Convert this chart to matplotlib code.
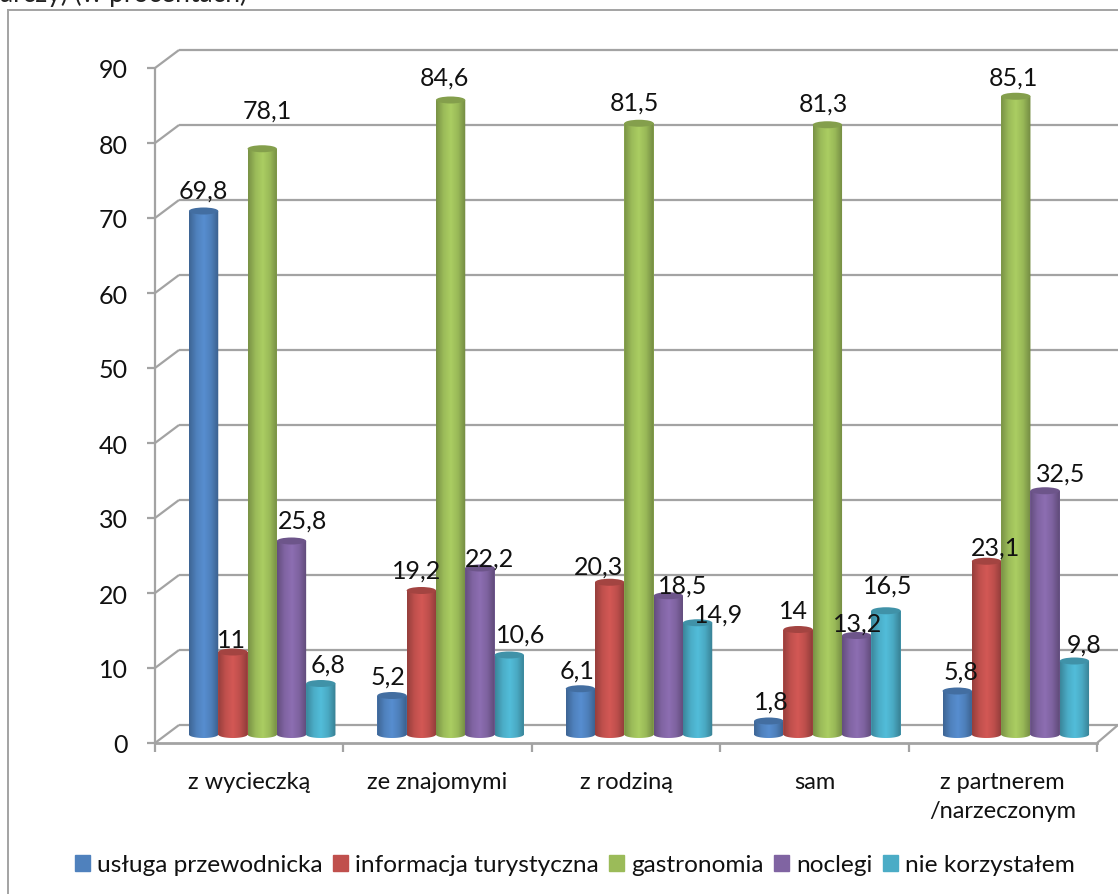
#!/usr/bin/env python3
"""Faux-3D cylinder chart: services used by travel company, in percent."""

import numpy as np
import matplotlib
matplotlib.use("Agg")
import matplotlib.pyplot as plt
from matplotlib.colors import LinearSegmentedColormap
from matplotlib.patches import Ellipse, Polygon

W, H = 1118, 895

CATEGORIES = ["z wycieczką", "ze znajomymi", "z rodziną", "sam", "z partnerem\n/narzeczonym"]
SERIES = ["usługa przewodnicka", "informacja turystyczna", "gastronomia", "noclegi", "nie korzystałem"]
PRZEWODNIK = [69.8, 5.2, 6.1, 1.8, 5.8]
INFORMACJA = [11, 19.2, 20.3, 14, 23.1]
GASTRONOMIA = [78.1, 84.6, 81.5, 81.3, 85.1]
NOCLEGI = [25.8, 22.2, 18.5, 13.2, 32.5]
NIE_KORZYSTAL = [6.8, 10.6, 14.9, 16.5, 9.8]
YTICKS = [0, 10, 20, 30, 40, 50, 60, 70, 80, 90]

COLORS = ["#4F81BD", "#C0504D", "#9BBB59", "#8064A2", "#4BACC6"]
GREY = "#A3A3A3"

# label nudges in pixels from the top of each bar, per series then per group
NUDGE = [
    [(0, 23), (-4, 21), (-3, 21), (3, 22), (4, 22)],
    [(-1, 14), (-5, 22), (-11, 18), (-5, 21), (9, 16)],
    [(5, 41), (-6, 25), (-5, 23), (-4, 24), (-2, 21)],
    [(11, 23), (10, 12), (14, 13), (1, 14), (16, 20)],
    [(7, 21), (11, 23), (21, 11), (2, 28), (10, 19)],
]

plt.rcParams["font.family"] = ["Lato", "DejaVu Sans"]

# axes box is the front plane of the chart
L, R, T, B = 155, 1097, 69, 744
PX_X = (R - L) / 5
PX_Y = (B - T) / 90
DEPTH_X = 24 / PX_X
DEPTH_Y = 18 / PX_Y
BAR_W = 29.3 / PX_X
BAR_SHIFT = 13 / PX_X
BAR_BASE = 8.5 / PX_Y
CAP_H = 3.5 / PX_Y


def cylinder(ax, x, value, color, zorder):
    base = BAR_BASE
    top = base + value
    ax.bar(x, value, BAR_W, bottom=base, color=color, linewidth=0, zorder=zorder)
    rgb = np.array(matplotlib.colors.to_rgb(color))
    cmap = LinearSegmentedColormap.from_list(
        "cyl", [rgb * 0.78, rgb * 1.0, np.minimum(rgb * 1.1, 1), rgb * 0.98, rgb * 0.74]
    )
    t = np.linspace(np.pi, 2 * np.pi, 40)
    outline = np.column_stack([x + BAR_W / 2 * np.cos(t), base + CAP_H * np.sin(t)])
    outline = np.vstack([outline, [x + BAR_W / 2, top], [x - BAR_W / 2, top]])
    im = ax.imshow(
        np.linspace(0, 1, 64).reshape(1, -1), cmap=cmap, aspect="auto", zorder=zorder,
        extent=(x - BAR_W / 2, x + BAR_W / 2, base - CAP_H, top),
    )
    im.set_clip_path(Polygon(outline, transform=ax.transData))
    ax.add_patch(Ellipse((x, top), BAR_W, 2 * CAP_H, facecolor=rgb * 0.85, linewidth=0, zorder=zorder))


fig = plt.figure(figsize=(W / 100, H / 100), dpi=100)
ax = fig.add_axes([L / W, 1 - B / H, (R - L) / W, (B - T) / H])
ax.set_axis_off()

# outer frame, cropped by the image on the right and bottom
fig.add_artist(plt.Line2D([8 / W, 8 / W], [0, 1 - 11 / H], color=GREY, lw=1.4))
fig.add_artist(plt.Line2D([8 / W, 1], [1 - 11 / H, 1 - 11 / H], color=GREY, lw=1.4))
fig.text(0, 1 - 2 / H, "arczy) (w procentach)", fontsize=19, va="baseline", ha="left", color="#222222")

x0, x1 = -0.5, 4.5
line = dict(color=GREY, lw=1.6, clip_on=False, zorder=1, solid_capstyle="butt")
for y in YTICKS:
    ax.plot([x0 - 8 / PX_X, x0], [y, y], **line)
    ax.plot([x0, x0 + DEPTH_X], [y, y + DEPTH_Y], **line)
    ax.plot([x0 + DEPTH_X, x1 + 21 / PX_X], [y + DEPTH_Y, y + DEPTH_Y], **line)
    ax.text(x0 - 27 / PX_X, y, str(y), ha="right", va="center_baseline", fontsize=18, color="#111111")
ax.plot([x0, x0], [0, 90], **line)
ax.plot([x0, x1], [0, 0], color=GREY, lw=2, clip_on=False, zorder=2)
ax.plot([x1, x1 + 21 / PX_X], [0, DEPTH_Y], **line)
for i in range(6):
    ax.plot([x0 + i, x0 + i], [0, -9 / PX_Y], **line)

all_values = [PRZEWODNIK, INFORMACJA, GASTRONOMIA, NOCLEGI, NIE_KORZYSTAL]
for s, values in enumerate(all_values):
    for i, v in enumerate(values):
        x = i + (s - 2) * BAR_W + BAR_SHIFT
        cylinder(ax, x, v, COLORS[s], 3 + s * 0.1)
        dx, dy = NUDGE[s][i]
        ax.annotate(
            f"{v:g}".replace(".", ","), xy=(x, v + BAR_BASE),
            xytext=(dx * 0.72, (dy - 2) * 0.72), textcoords="offset points",
            ha="center", va="center", fontsize=18, color="#111111", zorder=6,
            annotation_clip=False,
        )

for i, cat in enumerate(CATEGORIES):
    ax.text(i, -28 / PX_Y, cat, ha="center", va="top", fontsize=17, linespacing=1.5, color="#111111", clip_on=False)

handles = [plt.Rectangle((0, 0), 1, 1, color=c) for c in COLORS]
fig.legend(
    handles, SERIES, ncol=5, loc="center", bbox_to_anchor=(575 / W, 1 - 866 / H), frameon=False,
    fontsize=17.6, handlelength=0.61, handleheight=0.61, handletextpad=0.31, columnspacing=0.41,
    borderpad=0, labelcolor="#111111",
)

ax.set_xlim(x0, x1)
ax.set_ylim(0, 90)
fig.savefig("out.png", dpi=100)
